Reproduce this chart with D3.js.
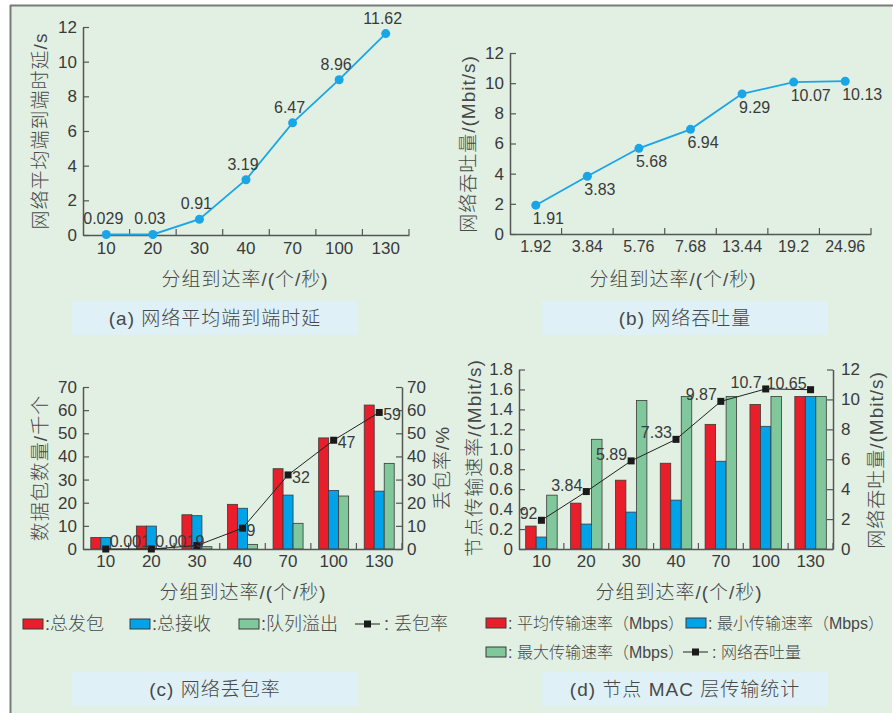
<!DOCTYPE html>
<html>
<head>
<meta charset="utf-8">
<script src="https://cdn.jsdelivr.net/npm/d3@7"></script>
<style>
body { margin: 0; background: #fff; }
text { font-family: "Liberation Sans", "Noto Sans CJK SC", sans-serif; fill: #3a3a3a; }
text.cjk { font-weight: 300; fill: #484848; }
</style>
</head>
<body>
<div id="chart"></div>
<script>
// data
var rates = ["10", "20", "30", "40", "70", "100", "130"];
var delay = [0.029, 0.03, 0.91, 3.19, 6.47, 8.96, 11.62];
var delayLabels = ["0.029", "0.03", "0.91", "3.19", "6.47", "8.96", "11.62"];

var tpRates = ["1.92", "3.84", "5.76", "7.68", "13.44", "19.2", "24.96"];
var throughput = [1.91, 3.83, 5.68, 6.94, 9.29, 10.07, 10.13];
var throughputLabels = ["1.91", "3.83", "5.68", "6.94", "9.29", "10.07", "10.13"];

var sent = [5.0, 9.9, 14.8, 19.3, 34.7, 48, 62.2];
var received = [5.0, 9.9, 14.4, 17.6, 23.3, 25.3, 25];
var overflow = [0, 0.2, 1.0, 2.0, 11.1, 22.9, 37];
var lossRate = [0.001, 0.0019, 1.5, 9, 32, 47, 59];
var lossLabels = ["0.001", "0.0019", "", "9", "32", "47", "59"];

var avgRate = [0.23, 0.46, 0.69, 0.86, 1.25, 1.45, 1.53];
var minRate = [0.12, 0.25, 0.37, 0.49, 0.88, 1.23, 1.53];
var maxRate = [0.54, 1.10, 1.49, 1.53, 1.53, 1.53, 1.53];
var macThroughput = [1.92, 3.84, 5.89, 7.33, 9.87, 10.7, 10.65];
var macLabels = ["1.92", "3.84", "5.89", "7.33", "9.87", "10.7", "10.65"];

var RED = "#e81e2a", BLUE = "#00a2e8", GREEN = "#80c89b", LINE = "#1aa5e6";
var AXIS = "#555";

var svg = d3.select("#chart").append("svg")
  .attr("width", 893).attr("height", 713);

// background panel
svg.append("rect").attr("x", 11).attr("y", 6).attr("width", 881).attr("height", 707)
  .attr("fill", "#e2f0e4");
svg.append("line").attr("x1", 10).attr("x2", 893).attr("y1", 5.5).attr("y2", 5.5)
  .attr("stroke", "#7a7a7a").attr("stroke-width", 2);
svg.append("line").attr("x1", 10.5).attr("x2", 10.5).attr("y1", 5).attr("y2", 713)
  .attr("stroke", "#7a7a7a").attr("stroke-width", 2);

function styleAxis(g, size) {
  g.select(".domain").attr("stroke", AXIS).attr("stroke-width", 1.5);
  g.selectAll(".tick line").attr("stroke", AXIS).attr("stroke-width", 1.2);
  g.selectAll("text").attr("font-size", size || 17)
    .attr("font-family", "Liberation Sans, sans-serif").attr("fill", "#3a3a3a");
  g.attr("font-family", null).attr("font-size", null);
}

// bottom axis: labels at band centres, short inward ticks at band edges
function bandAxis(x, yPos, padding, size) {
  var g = svg.append("g").attr("transform", "translate(0," + yPos + ")")
    .call(d3.axisBottom(x).tickSize(0).tickSizeOuter(0).tickPadding(padding));
  styleAxis(g, size);
  g.selectAll(".edge").data(x.domain()).enter().append("line")
    .attr("x1", d => x(d) + x.step()).attr("x2", d => x(d) + x.step())
    .attr("y1", 0).attr("y2", -6)
    .attr("stroke", AXIS).attr("stroke-width", 1.2);
  return g;
}

function vLabel(x, y, txt, size) {
  svg.append("text").attr("class", "cjk")
    .attr("transform", "translate(" + x + "," + y + ") rotate(-90)")
    .attr("text-anchor", "middle").attr("dominant-baseline", "central")
    .attr("font-size", size || 19).attr("letter-spacing", 1)
    .text(txt);
}

function hLabel(x, y, txt, size) {
  svg.append("text").attr("class", "cjk").attr("x", x).attr("y", y)
    .attr("text-anchor", "middle").attr("dominant-baseline", "central")
    .attr("font-size", size || 19).attr("letter-spacing", 1)
    .text(txt);
}

function caption(x, y, w, h, txt) {
  svg.append("rect").attr("x", x).attr("y", y).attr("width", w).attr("height", h)
    .attr("fill", "#dff1f7");
  hLabel(x + w / 2, y + h / 2, txt, 19);
}

// ---------- (a) delay ----------
(function () {
  var x = d3.scaleBand().domain(rates).range([83, 409]);
  var y = d3.scaleLinear().domain([0, 12]).range([235, 27]);
  var gy = svg.append("g").attr("transform", "translate(83,0)")
    .call(d3.axisLeft(y).tickValues(d3.range(0, 13, 2)).tickSize(-6).tickSizeOuter(0).tickPadding(6));
  styleAxis(gy);
  bandAxis(x, 235, 7, 17);
  var cx = (d, i) => x(rates[i]) + x.bandwidth() / 2;
  svg.append("path").datum(delay)
    .attr("fill", "none").attr("stroke", LINE).attr("stroke-width", 1.8)
    .attr("d", d3.line().x(cx).y(d => y(d)));
  svg.selectAll(".pa").data(delay).enter().append("circle")
    .attr("cx", cx).attr("cy", d => y(d)).attr("r", 4.5).attr("fill", LINE);
  svg.selectAll(".la").data(delay).enter().append("text")
    .attr("x", (d, i) => cx(d, i) - 3).attr("y", d => y(d) - 10)
    .attr("text-anchor", "middle").attr("font-size", 16)
    .text((d, i) => delayLabels[i]);
  vLabel(40, 131, "网络平均端到端时延/s");
  hLabel(245, 279, "分组到达率/(个/秒)");
  caption(72, 301, 286, 34, "(a) 网络平均端到端时延");
})();

// ---------- (b) throughput ----------
(function () {
  var x = d3.scaleBand().domain(tpRates).range([510, 871]);
  var y = d3.scaleLinear().domain([0, 12]).range([234, 53]);
  var gy = svg.append("g").attr("transform", "translate(510,0)")
    .call(d3.axisLeft(y).tickValues(d3.range(0, 13, 2)).tickSize(-6).tickSizeOuter(0).tickPadding(6));
  styleAxis(gy);
  bandAxis(x, 234, 7, 16);
  var cx = (d, i) => x(tpRates[i]) + x.bandwidth() / 2;
  svg.append("path").datum(throughput)
    .attr("fill", "none").attr("stroke", LINE).attr("stroke-width", 1.8)
    .attr("d", d3.line().x(cx).y(d => y(d)));
  svg.selectAll(".pb").data(throughput).enter().append("circle")
    .attr("cx", cx).attr("cy", d => y(d)).attr("r", 4.5).attr("fill", LINE);
  svg.selectAll(".lb").data(throughput).enter().append("text")
    .attr("x", (d, i) => cx(d, i) - 3).attr("y", d => y(d) + 19)
    .attr("font-size", 16)
    .text((d, i) => throughputLabels[i]);
  vLabel(468, 144, "网络吞吐量/(Mbit/s)");
  hLabel(673, 279, "分组到达率/(个/秒)");
  caption(542, 301, 286, 34, "(b) 网络吞吐量");
})();

function bars(x, y, series, colors, bw) {
  series.forEach(function (vals, s) {
    svg.selectAll(null).data(vals).enter().append("rect")
      .attr("x", (d, i) => x(rates[i]) + x.bandwidth() / 2 - 1.5 * bw + s * bw)
      .attr("y", d => y(d))
      .attr("width", bw)
      .attr("height", d => y(0) - y(d))
      .attr("fill", colors[s]).attr("stroke", "#3a3a3a").attr("stroke-width", 0.8);
  });
}

function squareLine(x, y, vals) {
  var cx = (d, i) => x(rates[i]) + x.bandwidth() / 2;
  svg.append("path").datum(vals)
    .attr("fill", "none").attr("stroke", "#222").attr("stroke-width", 1)
    .attr("d", d3.line().x(cx).y(d => y(d)));
  svg.selectAll(null).data(vals).enter().append("rect")
    .attr("x", (d, i) => cx(d, i) - 3.5).attr("y", d => y(d) - 3.5)
    .attr("width", 7).attr("height", 7).attr("fill", "#1a1a1a");
  return cx;
}

function legendBox(x, y, color, txt, size) {
  svg.append("rect").attr("x", x).attr("y", y - 5).attr("width", 20).attr("height", 10)
    .attr("fill", color).attr("stroke", "#3a3a3a").attr("stroke-width", 1);
  svg.append("text").attr("class", "cjk").attr("x", x + 22).attr("y", y)
    .attr("dominant-baseline", "central")
    .attr("font-size", size || 18).text(txt);
}

function legendLine(x, y, txt, size) {
  svg.append("line").attr("x1", x).attr("x2", x + 25).attr("y1", y).attr("y2", y)
    .attr("stroke", "#222").attr("stroke-width", 1);
  svg.append("rect").attr("x", x + 9).attr("y", y - 3.5).attr("width", 7).attr("height", 7)
    .attr("fill", "#1a1a1a");
  svg.append("text").attr("class", "cjk").attr("x", x + 29).attr("y", y)
    .attr("dominant-baseline", "central")
    .attr("font-size", size || 18).text(txt);
}

// ---------- (c) packet loss ----------
(function () {
  var x = d3.scaleBand().domain(rates).range([83, 402]);
  var y = d3.scaleLinear().domain([0, 70]).range([549, 387]);
  var y2 = d3.scaleLinear().domain([0, 70]).range([549, 387]);
  bars(x, y, [sent, received, overflow], [RED, BLUE, GREEN], 10);
  var gy = svg.append("g").attr("transform", "translate(83,0)")
    .call(d3.axisLeft(y).tickValues(d3.range(0, 71, 10)).tickSize(-6).tickSizeOuter(0).tickPadding(6));
  styleAxis(gy);
  var gy2 = svg.append("g").attr("transform", "translate(402,0)")
    .call(d3.axisRight(y2).tickValues(d3.range(0, 71, 10)).tickSize(-6).tickSizeOuter(0).tickPadding(5));
  styleAxis(gy2);
  bandAxis(x, 549, 6, 17);
  var cx = squareLine(x, y2, lossRate);
  svg.selectAll(null).data(lossRate).enter().append("text")
    .attr("x", (d, i) => cx(d, i) + 4).attr("y", d => Math.min(y2(d) + 8, 547))
    .attr("font-size", 16)
    .text((d, i) => lossLabels[i]);
  vLabel(40, 468, "数据包数量/千个");
  vLabel(442, 468, "丢包率/%");
  hLabel(243, 592, "分组到达率/(个/秒)");
  legendBox(23, 624, RED, ":总发包");
  legendBox(130, 624, BLUE, ":总接收");
  legendBox(239, 624, GREEN, ":队列溢出");
  legendLine(355, 624, ": 丢包率");
  caption(72, 672, 286, 34, "(c) 网络丢包率");
})();

// ---------- (d) MAC layer ----------
(function () {
  var x = d3.scaleBand().domain(rates).range([519, 833]);
  var y = d3.scaleLinear().domain([0, 1.8]).range([549, 369.5]);
  var y2 = d3.scaleLinear().domain([0, 12]).range([549, 369.5]);
  bars(x, y, [avgRate, minRate, maxRate], [RED, BLUE, GREEN], 10.5);
  var gy = svg.append("g").attr("transform", "translate(519,0)")
    .call(d3.axisLeft(y).tickValues(d3.range(0, 10).map(d => d * 0.2))
      .tickFormat(d => d === 0 ? "0" : d3.format(".1f")(d))
      .tickSize(-6).tickSizeOuter(0).tickPadding(6));
  styleAxis(gy);
  var gy2 = svg.append("g").attr("transform", "translate(833,0)")
    .call(d3.axisRight(y2).tickValues(d3.range(0, 13, 2)).tickSize(-6).tickSizeOuter(0).tickPadding(8));
  styleAxis(gy2);
  bandAxis(x, 549, 6, 17);
  var cx = squareLine(x, y2, macThroughput);
  svg.append("clipPath").attr("id", "clipd").append("rect")
    .attr("x", 520).attr("y", 340).attr("width", 320).attr("height", 220);
  svg.append("g").attr("clip-path", "url(#clipd)")
    .selectAll("text").data(macThroughput).enter().append("text")
    .attr("x", (d, i) => cx(d, i) - 4).attr("y", d => y2(d) - 1)
    .attr("text-anchor", "end").attr("font-size", 16)
    .text((d, i) => macLabels[i]);
  vLabel(474, 458, "节点传输速率/(Mbit/s)");
  vLabel(876, 460, "网络吞吐量/(Mbit/s)");
  hLabel(679, 592, "分组到达率/(个/秒)");
  legendBox(486, 623, RED, ": 平均传输速率（Mbps）", 16);
  legendBox(686, 623, BLUE, ": 最小传输速率（Mbps）", 16);
  legendBox(486, 652, GREEN, ": 最大传输速率（Mbps）", 16);
  legendLine(683, 652, ": 网络吞吐量", 16);
  caption(542, 672, 286, 34, "(d) 节点 MAC 层传输统计");
})();
</script>
</body>
</html>
